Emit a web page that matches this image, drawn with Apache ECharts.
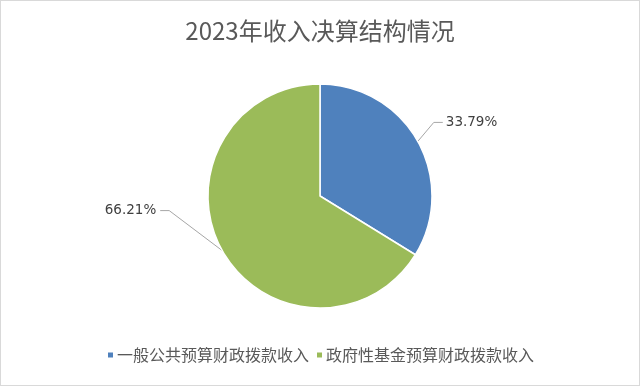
<!DOCTYPE html>
<html>
<head>
<meta charset="utf-8">
<script src="https://cdn.jsdelivr.net/npm/echarts@6/dist/echarts.min.js"></script>
<style>
html,body{margin:0;padding:0;background:#fff;}
#wrap{width:640px;height:386px;box-sizing:border-box;border:1px solid #d9d9d9;}
#chart{width:638px;height:384px;}
</style>
</head>
<body>
<div id="wrap"><div id="chart"></div></div>
<script>
const titleText = '2023年收入决算结构情况';
const categories = ['一般公共预算财政拨款收入', '政府性基金预算财政拨款收入'];
const values = [33.79, 66.21];
const colors = ['#4F81BD', '#9BBB59'];

const chart = echarts.init(document.getElementById('chart'), null, {renderer: 'canvas'});
const FONT = '"Noto Sans CJK SC", "Noto Sans", sans-serif';

chart.setOption({
  backgroundColor: '#ffffff',
  animation: false,
  color: colors,
  title: {
    text: titleText,
    left: 'center',
    top: 13,
    textStyle: {fontFamily: FONT, fontSize: 24, fontWeight: 'normal', color: '#595959'}
  },
  legend: {
    bottom: 17,
    left: 'center',
    itemWidth: 7,
    itemHeight: 7,
    itemGap: 6,
    icon: 'rect',
    textStyle: {fontFamily: FONT, fontSize: 16, color: '#595959', padding: [0, 0, 0, -2]},
    data: categories
  },
  series: [{
    type: 'pie',
    center: [319, 195],
    radius: 112,
    startAngle: 90,
    clockwise: true,
    data: categories.map((c, i) => ({name: c, value: values[i]})),
    itemStyle: {borderColor: '#ffffff', borderWidth: 1.5},
    label: {
      show: true,
      position: 'outside',
      formatter: p => p.value.toFixed(2) + '%',
      fontFamily: '"DejaVu Sans", sans-serif',
      fontSize: 13.5,
      color: '#404040'
    },
    labelLine: {show: true, length: 20, length2: 10, lineStyle: {color: '#a6a6a6', width: 1}},
    labelLayout: function (params) {
      const pts = params.labelLinePoints;
      if (!pts) return {};
      const s = pts[0];
      if (params.dataIndex === 0) {
        const e = [s[0] + 16, s[1] - 19];
        const f = [e[0] + 9, e[1]];
        return {x: f[0] + 3, y: e[1], align: 'left', verticalAlign: 'middle', labelLinePoints: [s, e, f]};
      } else {
        const e = [s[0] - 53, s[1] - 40];
        const f = [e[0] - 9, e[1]];
        return {x: f[0] - 4, y: e[1], align: 'right', verticalAlign: 'middle', labelLinePoints: [s, e, f]};
      }
    }
  }]
});
</script>
</body>
</html>
